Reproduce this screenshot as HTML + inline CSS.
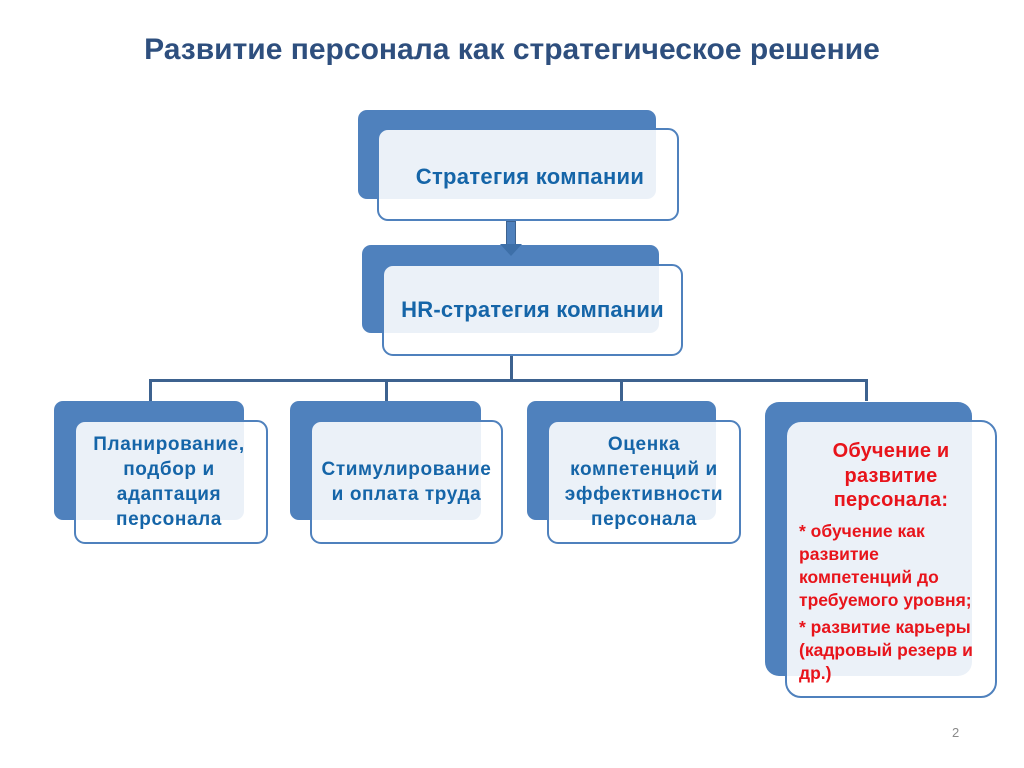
<!DOCTYPE html>
<html><head><meta charset="utf-8"><style>
body{margin:0;width:1024px;height:768px;background:#fff;position:relative;overflow:hidden;font-family:"Liberation Sans","DejaVu Sans",sans-serif}
.b{position:absolute;background:#4f81bd;border-radius:9px}
.f{position:absolute;background:rgba(255,255,255,0.89);border:2.5px solid #4f81bd;border-radius:11px;box-sizing:border-box;display:flex;align-items:center;justify-content:center;text-align:center;color:#1565a8;font-weight:bold;font-size:19px;line-height:25px;letter-spacing:0.6px}
.l{position:absolute;background:#3d628f}
</style></head><body>
<div style="position:absolute;left:0;top:33px;width:1024px;text-align:center;font-size:30px;font-weight:bold;color:#2e4f7e;letter-spacing:0px">Развитие персонала как стратегическое решение</div>

<div class="b" style="left:358px;top:110px;width:298px;height:89px"></div>
<div class="f" style="left:377px;top:128px;width:302px;height:93px;font-size:22px;letter-spacing:0.3px;padding-left:4px;padding-top:4px">Стратегия компании</div>

<div class="b" style="left:362px;top:245px;width:297px;height:88px"></div>
<div class="f" style="left:382px;top:264px;width:301px;height:92px;font-size:22px;letter-spacing:0.2px;padding-bottom:2px;white-space:nowrap">HR-стратегия компании</div>

<div style="position:absolute;left:506px;top:221px;width:10px;height:24px;background:#4f81bd;border:1px solid #3d628f;box-sizing:border-box;z-index:5"></div>
<div style="position:absolute;left:500px;top:244px;width:0;height:0;border-left:11px solid transparent;border-right:11px solid transparent;border-top:12px solid #3d6fa8;z-index:5"></div>

<div class="l" style="left:510px;top:356px;width:3px;height:25px"></div>
<div class="l" style="left:149px;top:379px;width:719px;height:3px"></div>
<div class="l" style="left:149px;top:379px;width:3px;height:22px"></div>
<div class="l" style="left:385px;top:379px;width:3px;height:22px"></div>
<div class="l" style="left:620px;top:379px;width:3px;height:22px"></div>
<div class="l" style="left:865px;top:379px;width:3px;height:22px"></div>

<div class="b" style="left:54px;top:401px;width:190px;height:119px"></div>
<div class="f" style="left:74px;top:420px;width:194px;height:124px;padding-right:4px">Планирование,<br>подбор и<br>адаптация<br>персонала</div>

<div class="b" style="left:290px;top:401px;width:191px;height:119px"></div>
<div class="f" style="left:310px;top:420px;width:193px;height:124px;white-space:nowrap">Стимулирование<br>и оплата труда</div>

<div class="b" style="left:527px;top:401px;width:189px;height:119px"></div>
<div class="f" style="left:547px;top:420px;width:194px;height:124px;white-space:nowrap">Оценка<br>компетенций и<br>эффективности<br>персонала</div>

<div class="b" style="left:765px;top:402px;width:207px;height:274px;border-radius:14px"></div>
<div class="f" style="left:785px;top:420px;width:212px;height:278px;border-radius:16px;display:block;color:#e8141b;text-align:left;padding:17px 0 0 12px;letter-spacing:0px;white-space:nowrap">
<div style="text-align:center;font-size:20px;padding-right:12px;line-height:24.5px;letter-spacing:0.2px">Обучение и<br>развитие<br>персонала:</div>
<div style="margin-top:7px;font-size:17.5px;line-height:23px">* обучение как<br>развитие<br>компетенций до<br>требуемого уровня;</div>
<div style="margin-top:4px;font-size:17.5px;line-height:23px">* развитие карьеры<br>(кадровый резерв и<br>др.)</div>
</div>

<div style="position:absolute;left:952px;top:725px;font-size:13px;color:#8a8a8a">2</div>
</body></html>
